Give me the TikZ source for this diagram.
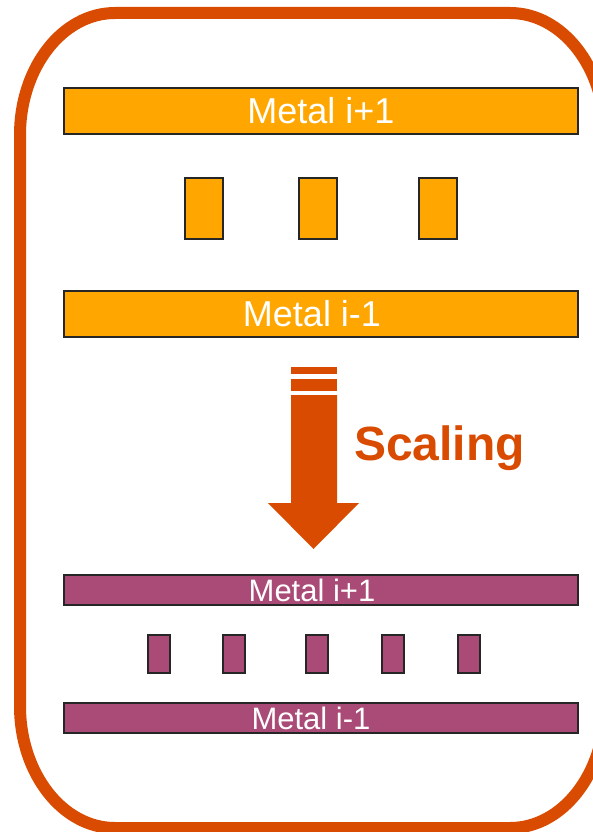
\documentclass[tikz,border=0pt]{standalone}
\usepackage{fontspec}
\setmainfont{Liberation Sans}
\definecolor{frameorange}{RGB}{216,75,0}
\definecolor{metalorange}{RGB}{255,167,0}
\definecolor{metalpurple}{RGB}{170,74,118}
\tikzset{
  wirebar/.style={draw=black!85, line width=1.2pt, inner sep=0pt},
  oldbar/.style={wirebar, fill=metalorange, minimum width=514pt, minimum height=46pt},
  oldvia/.style={wirebar, fill=metalorange, minimum width=38pt, minimum height=61pt},
  newbar/.style={wirebar, fill=metalpurple, minimum width=514pt, minimum height=30pt},
  newvia/.style={wirebar, fill=metalpurple, minimum width=22pt, minimum height=38pt},
  oldlabel/.style={inner sep=0pt, text=white, font=\fontsize{36}{40}\selectfont},
  newlabel/.style={inner sep=0pt, text=white, font=\fontsize{31}{34}\selectfont},
}
\begin{document}
\begin{tikzpicture}[x=1pt, y=-1pt]
  \useasboundingbox (0,0) rectangle (593,832);
  \clip (0,0) rectangle (593,832);

  % outer frame with rounded corners (y axis points down)
  \draw[frameorange, line width=12pt]
    (115,13) -- (510,13)
    arc[start angle=-90, end angle=0, x radius=95, y radius=122] -- (605,706)
    arc[start angle=0, end angle=90, x radius=95, y radius=122] -- (115,828)
    arc[start angle=90, end angle=180, x radius=95, y radius=122] -- (20,135)
    arc[start angle=180, end angle=270, x radius=95, y radius=122] -- cycle;

  % wiring before scaling
  \node[oldbar] (mtop) at (321,111) {};
  \node[oldlabel] (mtoplbl) at (mtop.center) {Metal i+1};
  \node[oldvia] (ov1) at (204,208.5) {};
  \node[oldvia] (ov2) at (318,208.5) {};
  \node[oldvia] (ov3) at (438,208.5) {};
  \node[oldbar] (mbot) at (321,314) {};
  \node[oldlabel] (mbotlbl) at ([xshift=-9pt]mbot.center) {Metal i-1};

  % scaling arrow
  \fill[frameorange] (291,367) rectangle (337,374);
  \fill[frameorange] (291,379) rectangle (337,391);
  \fill[frameorange] (291,395) -- (337,395) -- (337,503) -- (359,503)
    -- (313.5,549) -- (268,503) -- (291,503) -- cycle;
  \node[anchor=base west, inner sep=0pt, text=frameorange,
    font=\fontsize{48}{50}\selectfont\bfseries] (scal) at (354,460) {Scaling};

  % wiring after scaling
  \node[newbar] (ntop) at (321,590) {};
  \node[newlabel] (ntoplbl) at ([xshift=-9pt]ntop.center) {Metal i+1};
  \node[newvia] (nv1) at (159,654) {};
  \node[newvia] (nv2) at (234,654) {};
  \node[newvia] (nv3) at (317,654) {};
  \node[newvia] (nv4) at (393,654) {};
  \node[newvia] (nv5) at (469,654) {};
  \node[newbar] (nbot) at (321,718) {};
  \node[newlabel] (nbotlbl) at ([xshift=-10pt]nbot.center) {Metal i-1};
\end{tikzpicture}
\end{document}
